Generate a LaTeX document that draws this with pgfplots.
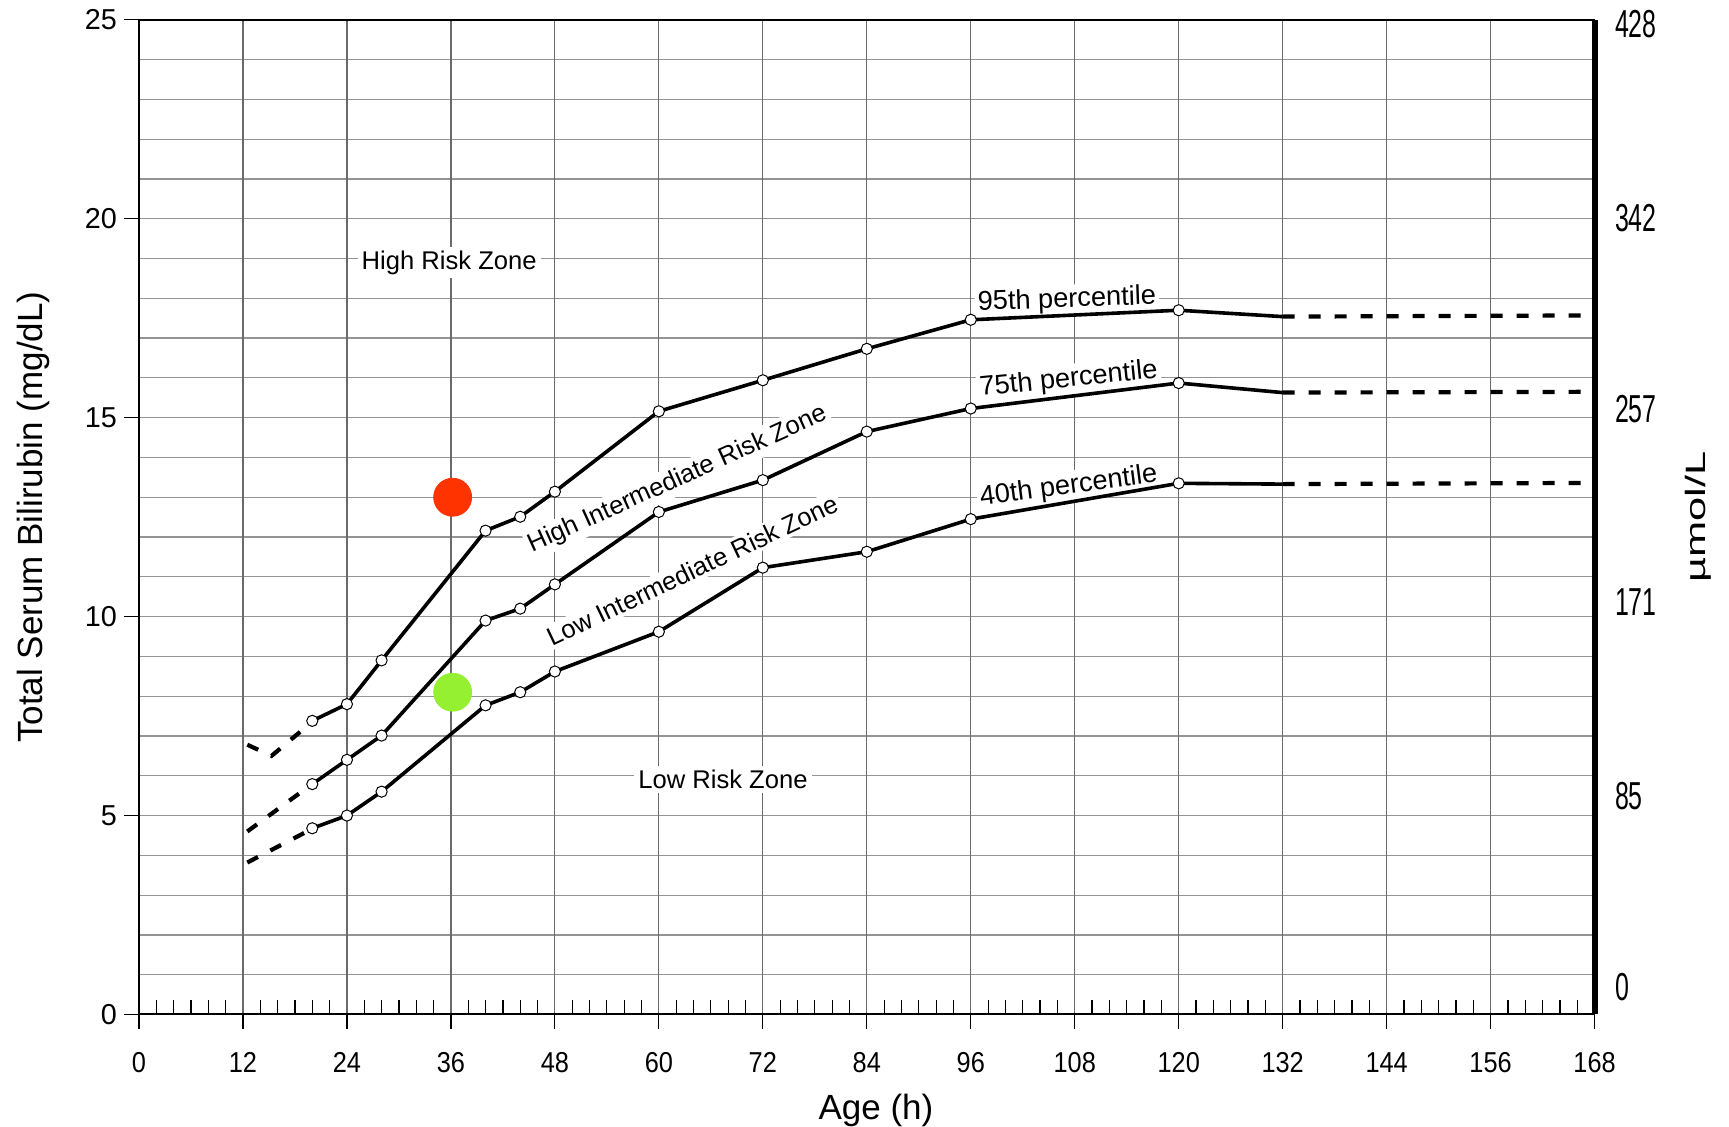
\documentclass[border=0pt]{standalone}
\usepackage{fontspec}
\setmainfont{Liberation Sans}
\usepackage{graphicx}
\usepackage{pgfplots}
\pgfplotsset{compat=1.18}

\definecolor{reddot}{RGB}{255,51,0}
\definecolor{greendot}{RGB}{150,240,50}
\newcommand\tickfont{\fontsize{14.4pt}{16pt}\selectfont}
\newcommand\zonefont{\fontsize{12.8pt}{14pt}\selectfont}
\newcommand\pctfont{\fontsize{13.6pt}{15pt}\selectfont}

\pgfplotsset{
  base/.style={at={(0,0)}, anchor=south west, scale only axis,
    width=727.8pt, height=497.35pt, xmin=0, xmax=168, ymin=0, ymax=25},
  curve/.style={black, line width=1.8pt, mark=*, mark size=2.8pt,
    mark options={fill=white, draw=black, line width=0.5pt, solid}},
  dcurve/.style={black, line width=2.1pt, dash pattern=on 6pt off 7pt},
}

\begin{document}
\begin{tikzpicture}
\path[use as bounding box] (-69.5pt,-56.25pt) rectangle (795pt,507.25pt);

% horizontal grid (every 1 mg/dL)
\begin{axis}[base, axis line style={draw=none},
  xtick=\empty, ytick={0,1,...,25},
  yticklabels={}, major tick length=0pt, tick style={draw=none},
  ymajorgrids, major grid style={black!42, line width=0.6pt}]
\end{axis}
% vertical grid (every 12 h)
\begin{axis}[base, axis line style={draw=none},
  xtick={0,12,...,168}, ytick=\empty,
  xticklabels={}, major tick length=0pt, tick style={draw=none},
  xmajorgrids, major grid style={black!58, line width=0.6pt}]
\end{axis}

% minor x ticks (inside)
\begin{axis}[base, axis x line*=bottom, axis y line=none,
  xtick={2,4,6,8,10,14,16,18,20,22,26,28,30,32,34,38,40,42,44,46,50,52,54,56,58,62,64,66,68,70,74,76,78,80,82,86,88,90,92,94,98,100,102,104,106,110,112,114,116,118,122,124,126,128,130,134,136,138,140,142,146,148,150,152,154,158,160,162,164,166},
  tick align=inside, major tick length=7pt, xticklabels={},
  tick style={black, line width=0.6pt}, x axis line style={line width=1pt}]
\end{axis}

% right axis (umol/L)
\begin{axis}[at={(0,0)}, anchor=south west, scale only axis,
  width=727.8pt, height=497.35pt, xmin=0, xmax=168, ymin=-12.26, ymax=430.0,
  axis x line=none, axis y line*=right,
  ytick={0,85,171,257,342,428}, major tick length=0pt,
  y axis line style={line width=3pt},
  yticklabel style={anchor=west, inner sep=0pt, xshift=10pt},
  yticklabel={\fontsize{19.5pt}{20pt}\selectfont\scalebox{0.64}[1]{\pgfmathprintnumber[assume math mode=true]{\tick}}},
  clip=false]
  \node[rotate=90, inner sep=0pt, font=\fontsize{14pt}{15pt}\selectfont] at ([xshift=51.75pt]rel axis cs:1,0.5) {\scalebox{1.55}[1]{µmol/L}};
\end{axis}

% main axis
\begin{axis}[base, axis x line*=bottom, axis y line*=left,
  xtick={0,12,...,168}, ytick={0,5,...,25},
  tick align=outside, major tick length=7.5pt,
  tick style={black, line width=0.6pt},
  x axis line style={line width=1pt}, y axis line style={line width=0.8pt},
  /pgf/number format/assume math mode=true,
  xticklabel={\scalebox{0.88}[1]{\pgfmathprintnumber[assume math mode=true]{\tick}}},
  xticklabel style={font=\tickfont, yshift=-8pt},
  yticklabel style={font=\tickfont},
  xlabel={Age (h)}, ylabel={Total Serum Bilirubin (mg/dL)},
  xlabel style={font=\fontsize{17.5pt}{19pt}\selectfont, at={(axis description cs:0.5,0)}, anchor=base, yshift=-52.75pt, xshift=4.6pt, inner sep=0pt},
  ylabel style={font=\fontsize{17.5pt}{19pt}\selectfont, at={(axis description cs:-0.0838,0.5)}, anchor=north, inner sep=0pt},
  clip=false]

  \draw[black, line width=0.8pt] (axis cs:0,25) -- (axis cs:168,25);

  % zone labels
  \node[font=\zonefont, fill=white, inner sep=2pt] at (axis cs:35.8,18.9) {High Risk Zone};
  \node[font=\zonefont, fill=white, inner sep=2pt] at (axis cs:67.4,5.91) {Low Risk Zone};
  \node[font=\zonefont, fill=white, inner sep=1.5pt, rotate=24.3] at (axis cs:62.2,13.44) {High Intermediate Risk Zone};
  \node[font=\zonefont, fill=white, inner sep=1.5pt, rotate=25.4] at (axis cs:63.9,11.17) {Low Intermediate Risk Zone};
  \node[font=\pctfont, fill=white, inner sep=1.5pt, rotate=2] at (axis cs:107.1,17.95) {95th percentile};
  \node[font=\pctfont, fill=white, inner sep=1.5pt, rotate=5.8] at (axis cs:107.3,15.95) {75th percentile};
  \node[font=\pctfont, fill=white, inner sep=1.5pt, rotate=7.5] at (axis cs:107.3,13.27) {40th percentile};

  % dashed extrapolations
  \addplot[dcurve] coordinates {(12.5,6.78) (15.3,6.5) (19.4,7.25)};
  \addplot[dcurve] coordinates {(12.5,4.6) (19.4,5.7)};
  \addplot[dcurve] coordinates {(12.5,3.82) (19.4,4.6)};
  \addplot[dcurve] coordinates {(132,17.54) (168,17.57)};
  \addplot[dcurve] coordinates {(132,15.63) (168,15.65)};
  \addplot[dcurve] coordinates {(132,13.33) (168,13.36)};

  % 95th percentile
  \addplot[curve, mark indices={1,2,3,4,5,6,7,8,9,10,11}] coordinates {
    (20,7.38) (24,7.80) (28,8.90) (40,12.16) (44,12.51) (48,13.14)
    (60,15.16) (72,15.94) (84,16.73) (96,17.46) (120,17.70) (132,17.54)};
  % 75th percentile
  \addplot[curve, mark indices={1,2,3,4,5,6,7,8,9,10,11}] coordinates {
    (20,5.79) (24,6.40) (28,7.01) (40,9.90) (44,10.20) (48,10.81)
    (60,12.63) (72,13.43) (84,14.65) (96,15.23) (120,15.87) (132,15.63)};
  % 40th percentile
  \addplot[curve, mark indices={1,2,3,4,5,6,7,8,9,10,11}] coordinates {
    (20,4.68) (24,5.00) (28,5.60) (40,7.77) (44,8.10) (48,8.62)
    (60,9.62) (72,11.23) (84,11.63) (96,12.45) (120,13.35) (132,13.33)};

  % patient points
  \addplot[only marks, mark=*, mark size=9.5pt, color=reddot] coordinates {(36.2,13.0)};
  \addplot[only marks, mark=*, mark size=9.5pt, color=greendot] coordinates {(36.2,8.1)};
\end{axis}
\end{tikzpicture}
\end{document}
